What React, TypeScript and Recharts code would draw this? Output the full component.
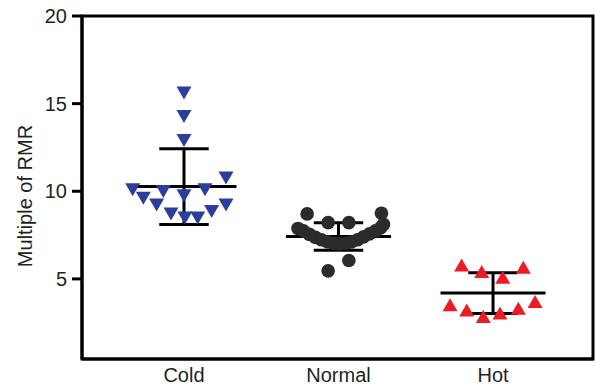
import {
  ScatterChart,
  Scatter,
  XAxis,
  YAxis,
  ReferenceLine,
  ReferenceArea,
} from "recharts";

const FONT = "'Liberation Sans', Arial, sans-serif";
const INK = "#231f20";

const categories = ["Cold", "Normal", "Hot"];
const yTicks = [5, 10, 15, 20];

// horizontal scatter offset of each point inside its group (x units)
const coldJitter = [0, 0, 0, 0.272, -0.332, -0.134, 0.136, -0.263, 0, -0.177, 0.272, -0.084, 0.179, 0.006, 0.089];
const coldValues = [15.6, 14.26, 12.9, 10.75, 10.08, 9.98, 10.08, 9.6, 9.74, 9.22, 9.22, 8.71, 8.84, 8.47, 8.47];

const normalJitter = [
  -0.203, -0.067, 0.067, 0.278, 0.067, -0.067,
  -0.262, -0.227, -0.188, -0.149, -0.11, -0.071, -0.032, 0.006, 0.045, 0.084, 0.123, 0.162, 0.201, 0.239, 0.272, 0.291,
];
const normalValues = [
  8.71, 8.21, 8.21, 8.75, 6.05, 5.46,
  7.88, 7.74, 7.54, 7.37, 7.23, 7.11, 7.03, 7.0, 7.03, 7.11, 7.23, 7.4, 7.57, 7.74, 7.91, 8.11,
];

const hotJitter = [-0.203, -0.073, 0.063, 0.196, -0.278, -0.17, -0.063, 0.045, 0.164, 0.272];
const hotValues = [5.8, 5.42, 5.1, 5.67, 3.52, 3.23, 2.85, 3.05, 3.33, 3.71];

// mean and SD per group
const means = [10.27, 7.42, 4.19];
const sds = [2.16, 0.79, 1.16];

const toPoints = (group: number, jitter: number[], values: number[]) =>
  values.map((v, i) => ({ x: group + jitter[i], y: v }));

const coldData = toPoints(0, coldJitter, coldValues);
const normalData = toPoints(1, normalJitter, normalValues);
const hotData = toPoints(2, hotJitter, hotValues);

const X_DOMAIN: [number, number] = [-0.66, 2.647];
const Y_DOMAIN: [number, number] = [0.43, 20];

const DownTriangle = (props: any) => {
  const { cx, cy } = props;
  return (
    <polygon
      points={`${cx - 7.5},${cy - 6.5} ${cx + 7.5},${cy - 6.5} ${cx},${cy + 6.5}`}
      fill="#2c3e9c"
    />
  );
};

const UpTriangle = (props: any) => {
  const { cx, cy } = props;
  return (
    <polygon
      points={`${cx - 7.5},${cy + 6.5} ${cx + 7.5},${cy + 6.5} ${cx},${cy - 6.5}`}
      fill="#ec1c24"
    />
  );
};

const Dot = (props: any) => {
  const { cx, cy } = props;
  return <circle cx={cx} cy={cy} r={6.8} fill="#2b2b2b" />;
};

const line = { stroke: "#000", strokeWidth: 3 };

export default function App() {
  return (
    <div style={{ position: "absolute", left: 0, top: 0, background: "#fff" }}>
      <ScatterChart width={595} height={388} margin={{ top: 16, right: 2, bottom: 0, left: 0 }}>
        <XAxis
          type="number"
          dataKey="x"
          domain={X_DOMAIN}
          ticks={[0, 1, 2]}
          allowDataOverflow
          tickFormatter={(v) => categories[v] ?? ""}
          height={29}
          tickLine={false}
          tickSize={7}
          tickMargin={2}
          axisLine={line}
          tick={{ fill: INK, fontSize: 20, fontFamily: FONT }}
        />
        <YAxis
          type="number"
          dataKey="y"
          domain={Y_DOMAIN}
          ticks={yTicks}
          allowDataOverflow
          width={82}
          tickSize={10}
          tickMargin={5}
          axisLine={line}
          tickLine={line}
          tick={{ fill: INK, fontSize: 20, fontFamily: FONT }}
          label={{
            content: () => (
              <text
                x={32}
                y={196}
                transform="rotate(-90, 32, 196)"
                textAnchor="middle"
                fill={INK}
                fontSize={20}
                fontFamily={FONT}
              >
                Multiple of RMR
              </text>
            ),
          }}
        />
        <ReferenceArea
          x1={X_DOMAIN[0]}
          x2={X_DOMAIN[1]}
          y1={Y_DOMAIN[0]}
          y2={Y_DOMAIN[1]}
          fill="none"
          stroke="#000"
          strokeWidth={3}
          ifOverflow="visible"
        />
        {means.map((m, i) => (
          <ReferenceLine
            key={`mean-${i}`}
            segment={[{ x: i - 0.34, y: m }, { x: i + 0.34, y: m }]}
            {...line}
            ifOverflow="visible"
          />
        ))}
        {means.map((m, i) => (
          <ReferenceLine
            key={`sd-${i}`}
            segment={[{ x: i, y: m - sds[i] }, { x: i, y: m + sds[i] }]}
            {...line}
            ifOverflow="visible"
          />
        ))}
        {means.map((m, i) => (
          <ReferenceLine
            key={`top-${i}`}
            segment={[{ x: i - 0.16, y: m + sds[i] }, { x: i + 0.16, y: m + sds[i] }]}
            {...line}
            ifOverflow="visible"
          />
        ))}
        {means.map((m, i) => (
          <ReferenceLine
            key={`bot-${i}`}
            segment={[{ x: i - 0.16, y: m - sds[i] }, { x: i + 0.16, y: m - sds[i] }]}
            {...line}
            ifOverflow="visible"
          />
        ))}
        <Scatter data={coldData} shape={DownTriangle} isAnimationActive={false} />
        <Scatter data={normalData} shape={Dot} isAnimationActive={false} />
        <Scatter data={hotData} shape={UpTriangle} isAnimationActive={false} />
      </ScatterChart>
    </div>
  );
}
